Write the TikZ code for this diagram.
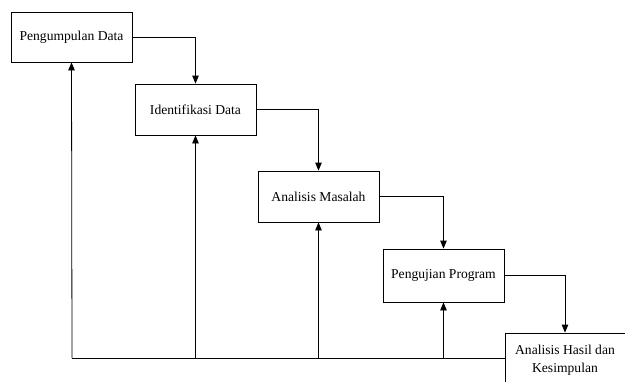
\documentclass[tikz,border=0pt]{standalone}
\usepackage{fontspec}
\setmainfont{Liberation Serif}
\usetikzlibrary{arrows.meta}
\begin{document}
\begin{tikzpicture}[x=1pt,y=-1pt,
  box/.style={draw,line width=0.8pt,minimum width=121pt,inner sep=0pt,align=center,
    font=\fontsize{13.6}{18}\selectfont},
  arr/.style={line width=0.8pt,-{Triangle[length=8pt,width=6.5pt]}},
  ln/.style={line width=0.8pt}]
\clip (0,0) rectangle (625,381);
\node[box,minimum height=50pt] (b1) at (71.5,37) {Pengumpulan Data};
\node[box,minimum height=51pt] (b2) at (195.5,109.5) {Identifikasi Data};
\node[box,minimum height=51pt] (b3) at (318.5,196.5) {Analisis Masalah};
\node[box,minimum height=53pt] (b4) at (443.5,275.5) {Pengujian Program};
\node[box,minimum width=120pt,minimum height=54pt] (b5) at (565,360) {Analisis Hasil dan\\Kesimpulan};
\draw[arr] (b1.east) -| (b2.north);
\draw[arr] (b2.east) -| (b3.north);
\draw[arr] (b3.east) -| (b4.north);
\draw[arr] (b4.east) -| (b5.north);
\coordinate (c0) at (72,358);
\draw[ln] (b5.west |- c0) -- (c0);
\draw[arr] (c0) -- (b1.south);
\draw[arr] (b2.south |- c0) -- (b2.south);
\draw[arr] (b3.south |- c0) -- (b3.south);
\draw[arr] (b4.south |- c0) -- (b4.south);
\end{tikzpicture}
\end{document}
